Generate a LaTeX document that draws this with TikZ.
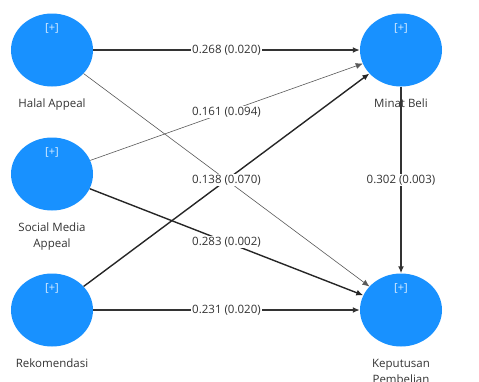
\documentclass[tikz,border=0pt]{standalone}
\usepackage{fontspec}
\setmainfont{Open Sans}
\usetikzlibrary{shapes.geometric, arrows.meta, positioning}
\definecolor{lvblue}{RGB}{24,145,255}
\definecolor{txtgrey}{RGB}{51,51,51}

\begin{document}
\begin{tikzpicture}[
    x=1pt, y=-1pt,
    font=\fontsize{11.5}{16}\selectfont,
    >={Latex[length=7pt,width=6pt]},
    latent/.style={ellipse, fill=lvblue, inner sep=0pt, minimum width=82pt, minimum height=73pt,
        label={[plus]north:{[+]}}},
    plus/.style={anchor=north, yshift=-7pt, text=white!85!lvblue, font=\fontsize{11}{13}\selectfont},
    lvname/.style={text=txtgrey, align=center},
    coef/.style={fill=white, inner sep=1pt, text=txtgrey},
    heavy/.style={->, line width=1.8pt, draw=black!80},
    medium/.style={->, line width=1.4pt, draw=black!85},
    light/.style={->, line width=0.6pt, draw=black!65}
]
\useasboundingbox (0,0) rectangle (479,381);

% 1. Exogenous constructs (Left)
\node[latent] (ha) at (52,50) {};
\node[lvname, below=9pt of ha] (haName) {Halal Appeal};

\node[latent] (sma) at (52,174) {};
\node[lvname, below=9pt of sma] (smaName) {Social Media\\Appeal};

\node[latent] (rek) at (52,310) {};
\node[lvname, below=9pt of rek] (rekName) {Rekomendasi};

% 2. Endogenous constructs (Right)
\node[latent] (mb) at (401,50) {};
\node[lvname, below=9pt of mb] (mbName) {Minat Beli};

\node[latent] (kp) at (401,310) {};
\node[lvname, below=9pt of kp] (kpName) {Keputusan\\Pembelian};

% Paths
\draw[light] (ha) -- (kp);
\draw[heavy] (ha) -- node[coef] {0.268 (0.020)} (mb);
\draw[light] (sma) -- node[coef] {0.161 (0.094)} (mb);
\draw[medium] (sma) -- node[coef] {0.283 (0.002)} (kp);
\draw[medium] (rek) -- node[coef] {0.138 (0.070)} (mb);
\draw[heavy] (rek) -- node[coef] {0.231 (0.020)} (kp);
\draw[heavy] (mb) -- node[coef] {0.302 (0.003)} (kp);

\end{tikzpicture}
\end{document}
